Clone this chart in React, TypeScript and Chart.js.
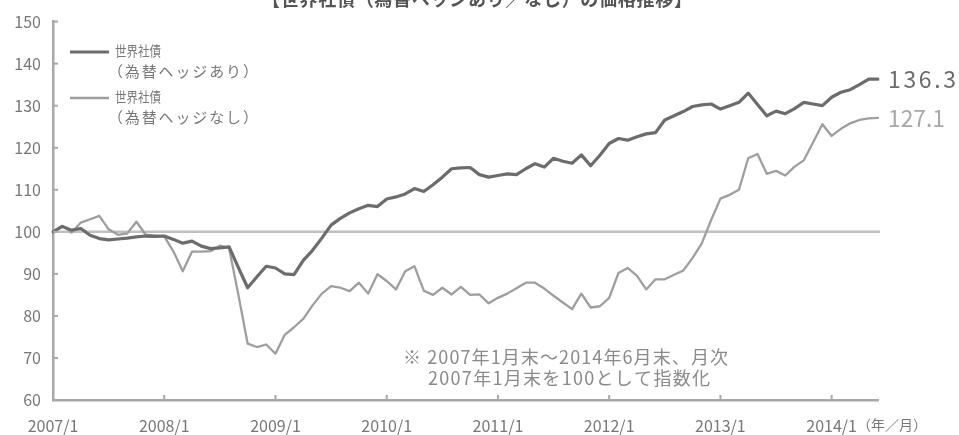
import React, { useEffect, useRef } from "react";
import { Chart, registerables } from "chart.js";

Chart.register(...registerables);

// ---- data ----
const startYear = 2007;
const categories: string[] = Array.from({ length: 90 }, (_, i) => `${startYear + Math.floor(i / 12)}/${(i % 12) + 1}`);

const hedged: number[] = [
  100.0, 101.3, 100.4, 100.8, 99.2, 98.4, 98.1, 98.3, 98.5, 98.8, 99.0, 98.9,
  99.0, 98.2, 97.3, 97.8, 96.6, 96.0, 96.2, 96.4, 91.5, 86.7, 89.3, 91.8,
  91.4, 90.0, 89.8, 93.2, 95.6, 98.5, 101.6, 103.2, 104.5, 105.5, 106.3, 106.0,
  107.8, 108.3, 109.0, 110.3, 109.6, 111.2, 113.0, 115.0, 115.2, 115.3, 113.6, 113.0,
  113.4, 113.8, 113.6, 115.0, 116.2, 115.4, 117.5, 116.8, 116.3, 118.3, 115.7, 118.2,
  121.0, 122.2, 121.8, 122.6, 123.3, 123.6, 126.6, 127.6, 128.6, 129.8, 130.2, 130.4,
  129.2, 130.0, 130.8, 133.0, 130.3, 127.6, 128.7, 128.1, 129.3, 130.8, 130.4, 130.0,
  132.0, 133.2, 133.8, 135.0, 136.3, 136.3,
];

const unhedged: number[] = [
  100.0, 101.4, 99.8, 102.2, 103.0, 103.8, 100.6, 99.3, 99.6, 102.4, 99.3, 99.1,
  98.9, 95.3, 90.6, 95.3, 95.3, 95.4, 96.7, 96.1, 85.0, 73.4, 72.6, 73.2,
  71.0, 75.5, 77.3, 79.3, 82.5, 85.3, 87.1, 86.7, 85.9, 87.9, 85.3, 89.9,
  88.3, 86.3, 90.6, 91.8, 86.0, 85.0, 86.7, 85.1, 86.9, 85.0, 85.1, 83.0,
  84.3, 85.3, 86.6, 87.9, 87.9, 86.5, 84.8, 83.2, 81.6, 85.3, 82.0, 82.3,
  84.3, 90.2, 91.4, 89.5, 86.3, 88.7, 88.7, 89.8, 90.8, 93.8, 97.3, 102.8,
  107.9, 108.8, 110.0, 117.5, 118.5, 113.8, 114.5, 113.4, 115.5, 117.0, 121.3, 125.6,
  122.8, 124.5, 125.8, 126.6, 127.0, 127.1,
];

const seriesNames: string[] = ["世界社債(為替ヘッジあり)", "世界社債(為替ヘッジなし)"];
const legendLines: string[][] = [
  ["世界社債", "（為替ヘッジあり）"],
  ["世界社債", "（為替ヘッジなし）"],
];
const endLabels: string[] = ["136.3", "127.1"];
const yMin = 60;
const yMax = 150;
const yStep = 10;
const baseValue = 100;
const titleText = "【世界社債（為替ヘッジあり／なし）の価格推移】";
const noteLines: string[] = ["※ 2007年1月末～2014年6月末、月次", "2007年1月末を100として指数化"];
const unitLabel = "（年／月）";

// ---- style ----
const FONT = '"Noto Sans CJK JP", "Noto Sans", sans-serif';
const DARK = "#6c6c6c";
const LIGHT = "#9e9e9e";
const AXIS = "#a8a8a8";
const TEXT = "#777777";

function fitText(
  ctx: CanvasRenderingContext2D,
  text: string,
  x: number,
  y: number,
  width: number,
  font: string,
  color: string
) {
  ctx.save();
  ctx.font = font;
  ctx.fillStyle = color;
  ctx.textAlign = "left";
  ctx.textBaseline = "middle";
  (ctx as any).letterSpacing = "0px";
  const w = ctx.measureText(text).width;
  const n = [...text].length;
  if (w >= width) {
    ctx.fillText(text, x, y, width);
  } else {
    const sp = n > 1 ? (width - w) / (n - 1) : 0;
    (ctx as any).letterSpacing = `${sp}px`;
    ctx.fillText(text, x, y);
  }
  ctx.restore();
}

const decor = {
  id: "decor",
  beforeDatasetsDraw(chart: any) {
    const { ctx, chartArea, scales } = chart;
    const y = scales.y.getPixelForValue(baseValue);
    ctx.save();
    ctx.strokeStyle = "#c0c0c0";
    ctx.lineWidth = 2.5;
    ctx.beginPath();
    ctx.moveTo(chartArea.left, y);
    ctx.lineTo(chartArea.right + 2, y);
    ctx.stroke();
    ctx.restore();
  },
  afterDraw(chart: any) {
    const { ctx, chartArea, scales } = chart;
    const xs = scales.x;
    const ys = scales.y;
    ctx.save();
    // inside tick marks
    ctx.strokeStyle = AXIS;
    ctx.lineWidth = 2;
    ys.ticks.forEach((t: any) => {
      const py = ys.getPixelForValue(t.value);
      ctx.beginPath();
      ctx.moveTo(chartArea.left, py);
      ctx.lineTo(chartArea.left + 5, py);
      ctx.stroke();
    });
    categories.forEach((_, i) => {
      if (i % 12 === 0 && i > 0) {
        const px = xs.getPixelForValue(i);
        ctx.beginPath();
        ctx.moveTo(px, chartArea.bottom);
        ctx.lineTo(px, chartArea.bottom - 5);
        ctx.stroke();
      }
    });
    ctx.restore();

    // legend
    const ds = chart.data.datasets;
    const legendY = [52, 98];
    ds.forEach((d: any, k: number) => {
      ctx.save();
      ctx.strokeStyle = d.borderColor;
      ctx.lineWidth = d.borderWidth;
      ctx.beginPath();
      ctx.moveTo(70, legendY[k]);
      ctx.lineTo(109, legendY[k]);
      ctx.stroke();
      ctx.restore();
      fitText(ctx, legendLines[k][0], 115, legendY[k] - 1, 46, `14px ${FONT}`, TEXT);
      fitText(ctx, legendLines[k][1], 108, legendY[k] + 19, 150, `15px ${FONT}`, TEXT);
    });

    // end labels
    const series = [hedged, unhedged];
    const endW = [68, 57];
    const endColors = [DARK, "#a8a8a8"];
    series.forEach((s, k) => {
      const last = s.length - 1;
      const px = xs.getPixelForValue(last) + 10;
      const py = ys.getPixelForValue(s[last]);
      fitText(ctx, endLabels[k], px, py, endW[k], `23px ${FONT}`, endColors[k]);
    });

    // notes
    fitText(ctx, noteLines[0], 403, 357, 325, `18px ${FONT}`, "#8a8a8a");
    fitText(ctx, noteLines[1], 428, 378, 282, `18px ${FONT}`, "#8a8a8a");

    // unit label
    fitText(ctx, unitLabel, 857, 425, 70, `14px ${FONT}`, TEXT);

    // title (cut at top)
    fitText(ctx, titleText, 262, -1, 430, `bold 18px ${FONT}`, "#555555");
  },
};

export default function App() {
  const ref = useRef<HTMLCanvasElement>(null);
  useEffect(() => {
    if (!ref.current) return;
    const chart = new Chart(ref.current, {
      type: "line",
      data: {
        labels: categories,
        datasets: [
          {
            label: seriesNames[0],
            data: hedged,
            borderColor: DARK,
            borderWidth: 3.2,
            pointRadius: 0,
            tension: 0,
            borderJoinStyle: "round",
            borderCapStyle: "round",
          },
          {
            label: seriesNames[1],
            data: unhedged,
            borderColor: LIGHT,
            borderWidth: 2.3,
            pointRadius: 0,
            tension: 0,
            borderJoinStyle: "round",
            borderCapStyle: "round",
          },
        ],
      },
      options: {
        animation: false,
        responsive: false,
        layout: { padding: { top: 18, right: 81, left: 0, bottom: 0 } },
        plugins: {
          legend: { display: false },
          tooltip: { enabled: false },
          title: { display: false },
        },
        scales: {
          x: {
            type: "category",
            offset: false,
            grid: { display: false, drawTicks: false },
            border: { display: true, color: AXIS, width: 2.5 },
            ticks: {
              autoSkip: false,
              maxRotation: 0,
              minRotation: 0,
              padding: 16,
              color: TEXT,
              font: { family: FONT, size: 16 },
              callback: (_v: any, i: number) => (i % 12 === 0 ? categories[i] : ""),
            },
            afterFit: (s: any) => {
              s.height = 35;
            },
          },
          y: {
            min: yMin,
            max: yMax,
            grid: { display: false, drawTicks: false },
            border: { display: true, color: AXIS, width: 2.5 },
            ticks: {
              stepSize: yStep,
              padding: 12,
              color: TEXT,
              font: { family: FONT, size: 16 },
            },
            afterFit: (s: any) => {
              s.width = 53;
            },
          },
        },
      },
      plugins: [decor],
    });
    return () => chart.destroy();
  }, []);
  return (
    <div style={{ position: "fixed", left: 0, top: 0, width: 959, height: 435, background: "#fff" }}>
      <canvas ref={ref} width={959} height={435} style={{ display: "block" }} />
    </div>
  );
}
